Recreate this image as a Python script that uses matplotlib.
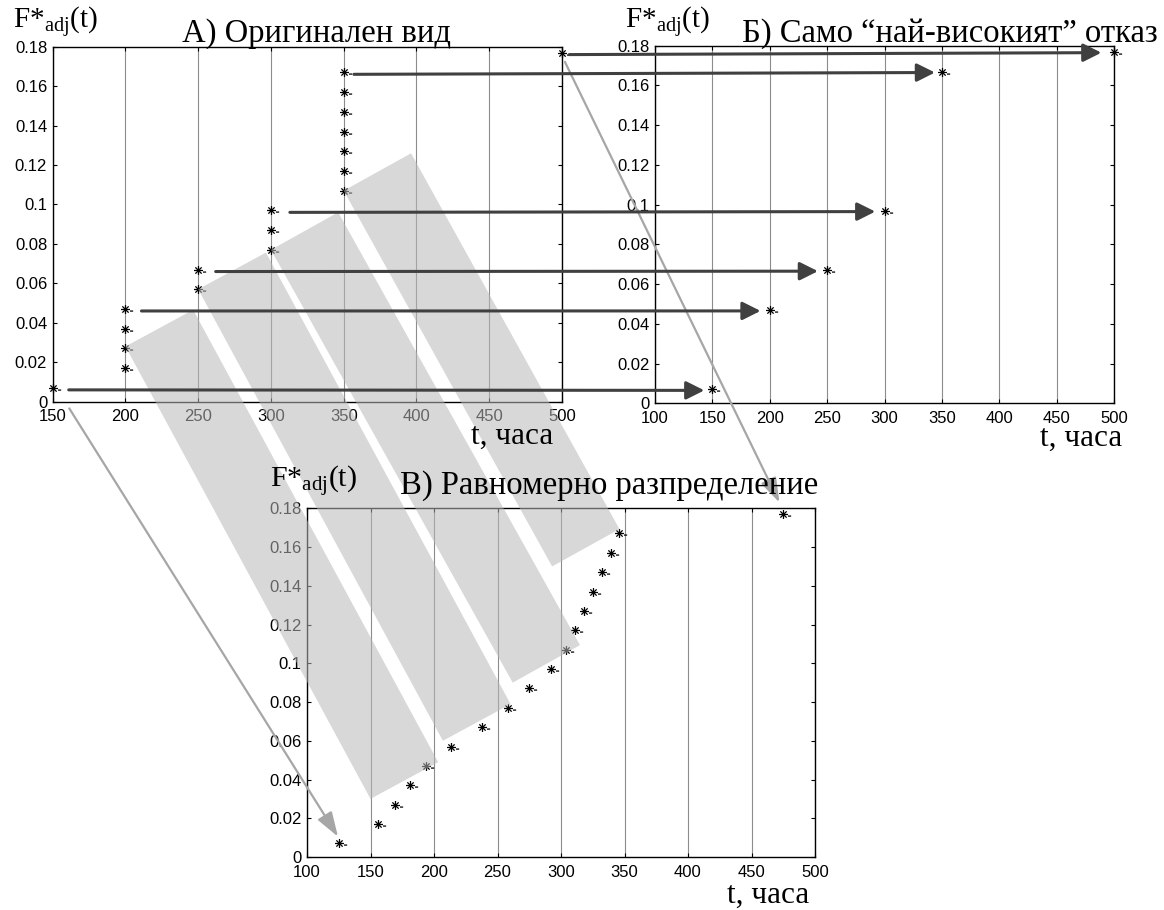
import matplotlib.pyplot as plt
import numpy as np
from matplotlib import ticker
from matplotlib.path import Path
from matplotlib.patches import ConnectionPatch, Polygon

plt.rcParams['font.family'] = ['Liberation Sans', 'DejaVu Sans']
plt.rcParams['mathtext.fontset'] = 'custom'
plt.rcParams['mathtext.rm'] = 'Liberation Serif'
plt.rcParams['mathtext.it'] = 'Liberation Serif:italic'

# А) original failure times and adjusted F*
t_orig = [150, 200, 200, 200, 200, 250, 250, 300, 300, 300,
          350, 350, 350, 350, 350, 350, 350, 500]
f_adj = [0.007, 0.017, 0.027, 0.037, 0.047, 0.057, 0.067, 0.077, 0.087,
         0.097, 0.107, 0.117, 0.127, 0.137, 0.147, 0.157, 0.167, 0.177]

# Б) only the "highest" failure per time
t_top = [150, 200, 250, 300, 350, 500]
f_top = [0.007, 0.047, 0.067, 0.097, 0.167, 0.177]

# В) uniformly spread failure times
t_unif = [125, 156, 169, 181, 194, 213, 238, 258, 275, 292,
          304, 311, 318, 325, 332, 339, 346, 475]

xticks_a = [150, 200, 250, 300, 350, 400, 450, 500]
xticks_bc = [100, 150, 200, 250, 300, 350, 400, 450, 500]
yticks = [0, 0.02, 0.04, 0.06, 0.08, 0.1, 0.12, 0.14, 0.16, 0.18]

# arrows А -> Б (start x in А, end x in Б)
arr_start = [161, 211, 262, 313, 357, 505]
arr_end = [143, 192, 242, 292, 344, 489]

# grey bands: top-left corner in А data, bottom-left corner in В data
band_top = [(200, 0.028), (250, 0.057), (300, 0.077), (350, 0.107)]
band_bot = [(150, 0.030), (207, 0.060), (262, 0.090), (293, 0.150)]
band_w = 77  # px

W, H = 1164, 910
fig = plt.figure(figsize=(W / 100, H / 100), dpi=100)


def px_axes(x0, x1, y0, y1):
    return fig.add_axes([x0 / W, 1 - y1 / H, (x1 - x0) / W, (y1 - y0) / H])


ax_a = px_axes(52.7, 562, 46.7, 401.7)
ax_b = px_axes(655, 1114, 45.7, 403.3)
ax_c = px_axes(307, 815, 508.3, 857)

# asterisk marker with the little dash on the right
verts = [(-1, 0), (1, 0), (0, -1), (0, 1), (-0.7, -0.7), (0.7, 0.7),
         (-0.7, 0.7), (0.7, -0.7), (1.0, -0.35), (1.7, -0.35)]
codes = [Path.MOVETO, Path.LINETO] * 5
star = Path(verts, codes)


def setup(ax, xt):
    ax.set_xlim(xt[0], xt[-1])
    ax.set_ylim(0, 0.18)
    ax.set_xticks(xt)
    ax.set_yticks(yticks)
    ax.yaxis.set_major_formatter(ticker.FuncFormatter(lambda v, p: f'{v:g}'))
    ax.tick_params(direction='in', top=True, right=True, length=3, width=0.8,
                   labelsize=12, pad=4)
    ax.tick_params(axis='x', pad=5.5)
    ax.xaxis.grid(True, color='#8c8c8c', lw=0.8)
    for s in ax.spines.values():
        s.set_linewidth(1.0)


setup(ax_a, xticks_a)
setup(ax_b, xticks_bc)
setup(ax_c, xticks_bc)

ax_a.plot(t_orig, f_adj, ls='none', marker=star, ms=11, mew=0.9, color='black', clip_on=False)
ax_b.plot(t_top, f_top, ls='none', marker=star, ms=11, mew=0.9, color='black', clip_on=False)
ax_c.plot(t_unif, f_adj, ls='none', marker=star, ms=11, mew=0.9, color='black', clip_on=False)

# texts
serif = 'Liberation Serif'
ylab = 'F*$_{\\mathrm{adj}}$(t)'


def ftext(x, y, s, size, **kw):
    fig.text(x / W, 1 - y / H, s, family=serif, fontsize=size, va='baseline',
             zorder=5, **kw)


ftext(13, 29, ylab, 21)
ftext(317, 42, 'А) Оригинален вид', 23.5, ha='center')
ftext(625, 29, ylab, 21)
ftext(950, 42, 'Б) Само “най-високият” отказ', 23.5, ha='center')
ftext(270, 488, ylab, 21.5)
ftext(400, 494, 'В) Равномерно разпределение', 23.5)
ftext(553, 444, 't, часа', 22.5, ha='right')
ftext(1122, 446, 't, часа', 22.5, ha='right')
ftext(809, 903, 't, часа', 22.5, ha='right')

# grey bands
fig.canvas.draw()
to_fig = fig.transFigure.inverted()
for (ta, tb) in zip(band_top, band_bot):
    p0 = ax_a.transData.transform(ta)
    p1 = ax_c.transData.transform(tb)
    d = (p1 - p0) / np.hypot(*(p1 - p0))
    n = np.array([-d[1], d[0]])
    if n[0] < 0:
        n = -n
    pts = np.array([p0, p0 + band_w * n, p1 + band_w * n, p1])
    band = Polygon(to_fig.transform(pts), closed=True, transform=fig.transFigure,
                   facecolor=(0.72, 0.72, 0.72), alpha=0.55, edgecolor='none', zorder=1)
    fig.add_artist(band)

# light grey arrows А -> В
grey = '#a6a6a6'
for xa, xc in [((161.4, -0.0034), (124.4, 0.0105)), ((502, 0.1723), (472, 0.183))]:
    con = ConnectionPatch(xyA=xa, coordsA=ax_a.transData, xyB=xc, coordsB=ax_c.transData,
                          arrowstyle='-|>,head_length=1.5,head_width=0.5', mutation_scale=10,
                          color=grey, lw=1.6, zorder=2)
    fig.add_artist(con)

# dark arrows А -> Б
for x0, x1, y in zip(arr_start, arr_end, f_top):
    con = ConnectionPatch(xyA=(x0, y - 0.001), coordsA=ax_a.transData, xyB=(x1, y - 0.0005),
                          coordsB=ax_b.transData,
                          arrowstyle='-|>,head_length=1.1,head_width=0.55', mutation_scale=10,
                          color='#404040', lw=2.2, zorder=3)
    fig.add_artist(con)

fig.savefig('out.png', dpi=100)
